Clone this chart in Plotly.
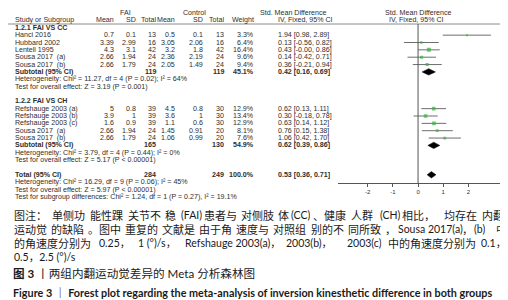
import plotly.graph_objects as go
import math

W, H = 508, 300

# ---------------- data ----------------
cc_studies = ["Hanci 2016", "Hubbard 2002", "Lentell 1995", "Sousa 2017  (a)", "Sousa 2017  (b)"]
cc_fai_mean = ["0.7", "3.39", "4.3", "2.66", "2.66"]
cc_fai_sd = ["0.1", "2.99", "3.1", "1.94", "1.79"]
cc_fai_n = [13, 16, 42, 24, 24]
cc_ctl_mean = ["0.5", "3.05", "3.2", "2.36", "2.05"]
cc_ctl_sd = ["0.1", "2.06", "1.8", "2.19", "1.49"]
cc_ctl_n = [13, 16, 42, 24, 24]
cc_weight = [3.3, 6.4, 16.4, 9.6, 9.4]
cc_smd = [1.94, 0.13, 0.43, 0.14, 0.36]
cc_lo = [0.98, -0.56, -0.00, -0.42, -0.21]
cc_hi = [2.89, 0.82, 0.86, 0.71, 0.94]

ch_studies = ["Refshauge 2003 (a)", "Refshauge 2003 (b)", "Refshauge 2003 (c)", "Sousa 2017  (a)", "Sousa 2017  (b)"]
ch_fai_mean = ["5", "3.9", "1.6", "2.66", "2.66"]
ch_fai_sd = ["0.8", "1", "0.9", "1.94", "1.79"]
ch_fai_n = [39, 39, 39, 24, 24]
ch_ctl_mean = ["4.5", "3.6", "1.1", "1.45", "1.06"]
ch_ctl_sd = ["0.8", "1", "0.6", "0.91", "0.99"]
ch_ctl_n = [30, 30, 30, 20, 20]
ch_weight = [12.9, 13.4, 12.9, 8.1, 7.6]
ch_smd = [0.62, 0.30, 0.63, 0.76, 1.06]
ch_lo = [0.13, -0.18, 0.14, 0.15, 0.42]
ch_hi = [1.11, 0.78, 1.12, 1.38, 1.70]

sub_labels = ["Subtotal (95% CI)", "Subtotal (95% CI)", "Total (95% CI)"]
sub_fai_n = [119, 165, 284]
sub_ctl_n = [119, 130, 249]
sub_weight = ["45.1%", "54.9%", "100.0%"]
sub_smd = [0.42, 0.62, 0.53]
sub_lo = [0.16, 0.39, 0.36]
sub_hi = [0.69, 0.86, 0.71]

cc_stats = ["Heterogeneity: Chi² = 11.27, df = 4 (P = 0.02); I² = 64%",
            "Test for overall effect: Z = 3.19 (P = 0.001)"]
ch_stats = ["Heterogeneity: Chi² = 3.79, df = 4 (P = 0.44); I² = 0%",
            "Test for overall effect: Z = 5.17 (P < 0.00001)"]
tot_stats = ["Heterogeneity: Chi² = 16.29, df = 9 (P = 0.06); I² = 45%",
             "Test for overall effect: Z = 5.97 (P < 0.00001)",
             "Test for subgroup differences: Chi² = 1.24, df = 1 (P = 0.27), I² = 19.1%"]

tick_vals = [-2, -1, 0, 1, 2]
tick_text = ["-2", "-1", "0", "1", "2"]

# caption pieces: (kind, text, x_start, x_end)  kind: c = CJK run, m = latin / mixed
caption_line1 = [("c", "图注：单侧功能性踝关节不稳", 6, 170), ("m", "(FAI)", 173, None),
                 ("c", "患者与对侧肢体", 196, 282), ("m", "(CC)", 283, None),
                 ("c", "、健康人群", 305, 369), ("m", "(CH)", 372, None),
                 ("c", "相比，", 394, 432), ("c", "均存在内翻", 436, 500)]
caption_line2 = [("c", "运动觉的缺陷。图中重复的文献是由于角速度与对照组别的不同所致，", 6, 389),
                 ("m", "Sousa 2017(a)", 390, None), ("c", "，", 454, 466),
                 ("m", "(b)", 466, None), ("c", "中", 488, 500)]
caption_line3 = [("c", "的角速度分别为", 6, 85), ("m", "0.25，", 91, None), ("m", "1 (°)/s，", 130, None),
                 ("m", "Refshauge 2003(a)，", 177, None), ("m", "2003(b)，", 278, None),
                 ("m", "2003(c)", 339, None), ("c", "中的角速度分别为", 380, 468),
                 ("m", "0.1，", 473, None)]
caption_line4 = [("m", "0.5，2.5 (°)/s", 6, None)]
title_cn = "<b>图 3</b> 丨两组内翻运动觉差异的 Meta 分析森林图"
title_en = "<b>Figure 3 ｜ Forest plot regarding the meta-analysis of inversion kinesthetic difference in both groups</b>"

# ---------------- layout helpers ----------------
TF = "Liberation Sans, Arial, sans-serif"
TS = 7.1
TC = "#2e2e2e"
ann = []


def txt(x, y, s, anchor="left", size=TS, bold=False, color=TC, family=TF, height=None):
    if bold:
        s = "<b>" + s + "</b>"
    a = dict(x=x / W, xref="paper", y=y, yref="y", text=s, showarrow=False,
             xanchor=anchor, yanchor="middle", borderpad=0, borderwidth=0,
             font=dict(size=size, color=color, family=family))
    if height is not None:
        a["height"] = height
    ann.append(a)


def row_y(i):
    return 19.8 + 7.35 * i


# column positions (pixels)
X_STUDY = 7
X_FM, X_FS, X_FN = 106, 128, 148
X_CM, X_CS, X_CN = 167, 195, 216
X_W = 246
X_CI = 270

# headers
txt(117, 5, "FAI", "center")
txt(186, 5, "Control", "center")
txt(285, 5, "Std. Mean Difference", "center")
txt(410, 5, "Std. Mean Difference", "center")
for x, s, a in [(X_STUDY, "Study or Subgroup", "left"), (X_FM, "Mean", "right"), (X_FS, "SD", "right"),
                (X_FN, "Total", "right"), (X_CM, "Mean", "right"), (X_CS, "SD", "right"),
                (X_CN, "Total", "right"), (X_W, "Weight", "right"), (297, "IV, Fixed, 95% CI", "center"),
                (408, "IV, Fixed, 95% CI", "center")]:
    txt(x, 12.3, s, a)

fig = go.Figure()


def ci_str(m, l, h):
    return "%.2f [%.2f, %.2f]" % (m, l, h)


def study_block(start, names, fm, fs, fn, cm, cs, cn, w, smd, lo, hi):
    ys = []
    for k in range(len(names)):
        y = row_y(start + k)
        ys.append(y)
        txt(X_STUDY, y, names[k])
        txt(X_FM, y, fm[k], "right")
        txt(X_FS, y, fs[k], "right")
        txt(X_FN, y, str(fn[k]), "right")
        txt(X_CM, y, cm[k], "right")
        txt(X_CS, y, cs[k], "right")
        txt(X_CN, y, str(cn[k]), "right")
        txt(X_W, y, "%.1f%%" % w[k], "right")
        txt(X_CI, y, ci_str(smd[k], lo[k], hi[k]))
        fig.add_trace(go.Scatter(x=[lo[k], hi[k]], y=[y, y], mode="lines",
                                 line=dict(color="#6e6e6e", width=1), hoverinfo="skip"))
    fig.add_trace(go.Scatter(x=smd, y=ys, mode="markers",
                             marker=dict(symbol="square", color="#33b23a",
                                         size=[max(2.0, math.sqrt(v)) for v in w],
                                         line=dict(width=0)), hoverinfo="skip"))


def diamond(i, y):
    fig.add_trace(go.Scatter(x=[sub_lo[i], sub_smd[i], sub_hi[i], sub_smd[i], sub_lo[i]],
                             y=[y, y - 3.2, y, y + 3.2, y], mode="lines", fill="toself",
                             fillcolor="#000000", line=dict(color="#000000", width=0.5),
                             hoverinfo="skip"))


def sub_row(i, y, bold=True):
    txt(X_STUDY, y, sub_labels[i], bold=bold)
    txt(X_FN, y, str(sub_fai_n[i]), "right", bold=bold)
    txt(X_CN, y, str(sub_ctl_n[i]), "right", bold=bold)
    txt(X_W, y, sub_weight[i], "right", bold=bold)
    txt(X_CI, y, ci_str(sub_smd[i], sub_lo[i], sub_hi[i]), bold=bold)
    diamond(i, y)


# group 1
txt(X_STUDY, row_y(0), "1.2.1 FAI VS CC", bold=True)
study_block(1, cc_studies, cc_fai_mean, cc_fai_sd, cc_fai_n, cc_ctl_mean, cc_ctl_sd, cc_ctl_n,
            cc_weight, cc_smd, cc_lo, cc_hi)
sub_row(0, row_y(6))
txt(X_STUDY, row_y(7), cc_stats[0])
txt(X_STUDY, row_y(8), cc_stats[1])

# group 2
txt(X_STUDY, row_y(10), "1.2.2 FAI VS CH", bold=True)
study_block(11, ch_studies, ch_fai_mean, ch_fai_sd, ch_fai_n, ch_ctl_mean, ch_ctl_sd, ch_ctl_n,
            ch_weight, ch_smd, ch_lo, ch_hi)
sub_row(1, row_y(16))
txt(X_STUDY, row_y(17), ch_stats[0])
txt(X_STUDY, row_y(18), ch_stats[1])

# total
sub_row(2, row_y(20))
for k, s in enumerate(tot_stats):
    txt(X_STUDY, row_y(21 + k), s)

# caption (justified lines approximated from pieces)
CJK_F = "Noto Sans CJK SC, sans-serif"
MIX_F = "Lato, Noto Sans CJK SC, sans-serif"
CJK_S = 11.0
LAT_S = 10.5
CAP_C = "#1a1a1a"
CAP_H = 12.0
CHUNK = 3


def caption_line(pieces, y):
    for kind, s, x0, x1 in pieces:
        if kind == "c":
            n = len(s)
            pitch = (x1 - x0) / n
            if pitch < CJK_S + 1.0:
                txt(x0, y, s, size=CJK_S, color=CAP_C, family=CJK_F, height=CAP_H)
                continue
            for i in range(0, n, CHUNK):
                txt(x0 + i * pitch, y, s[i:i + CHUNK], size=CJK_S, color=CAP_C, family=CJK_F,
                    height=CAP_H)
        else:
            txt(x0, y, s, size=LAT_S, color=CAP_C, family=MIX_F, height=CAP_H)


for pieces, y in zip([caption_line1, caption_line2, caption_line3, caption_line4],
                     [206.5, 221, 235, 249]):
    caption_line(pieces, y)
txt(5, 265.5, title_cn, size=11.6, color=CAP_C, family=MIX_F)
txt(5, 284.5, title_en, size=10.8, color=CAP_C, family=MIX_F)

AX_Y = 175
shapes = [
    dict(type="line", xref="paper", yref="y", x0=0, x1=498 / W, y0=16, y1=16,
         line=dict(color="#8c8c8c", width=1)),
    dict(type="line", xref="paper", yref="y", x0=498 / W, x1=498 / W, y0=0, y1=197,
         line=dict(color="#b0b0b0", width=1)),
    dict(type="line", xref="x", yref="y", x0=0, x1=0, y0=16, y1=AX_Y,
         line=dict(color="#555555", width=1)),
]

fig.update_layout(
    width=W, height=H, margin=dict(l=0, r=0, t=0, b=0),
    paper_bgcolor="white", plot_bgcolor="rgba(0,0,0,0)",
    showlegend=False, annotations=ann, shapes=shapes,
    xaxis=dict(domain=[330 / W, 491.5 / W], range=[-3.175, 3.23], anchor="free",
               position=(H - AX_Y) / H, showline=True, linecolor="#555555", linewidth=1,
               tickvals=tick_vals, ticktext=tick_text, ticks="outside", ticklen=3,
               tickcolor="#555555", tickfont=dict(size=6, family=TF, color=TC),
               showgrid=False, zeroline=False, fixedrange=True),
    yaxis=dict(domain=[0, 1], range=[H, 0], visible=False, fixedrange=True),
)

fig.write_html("out.html")
